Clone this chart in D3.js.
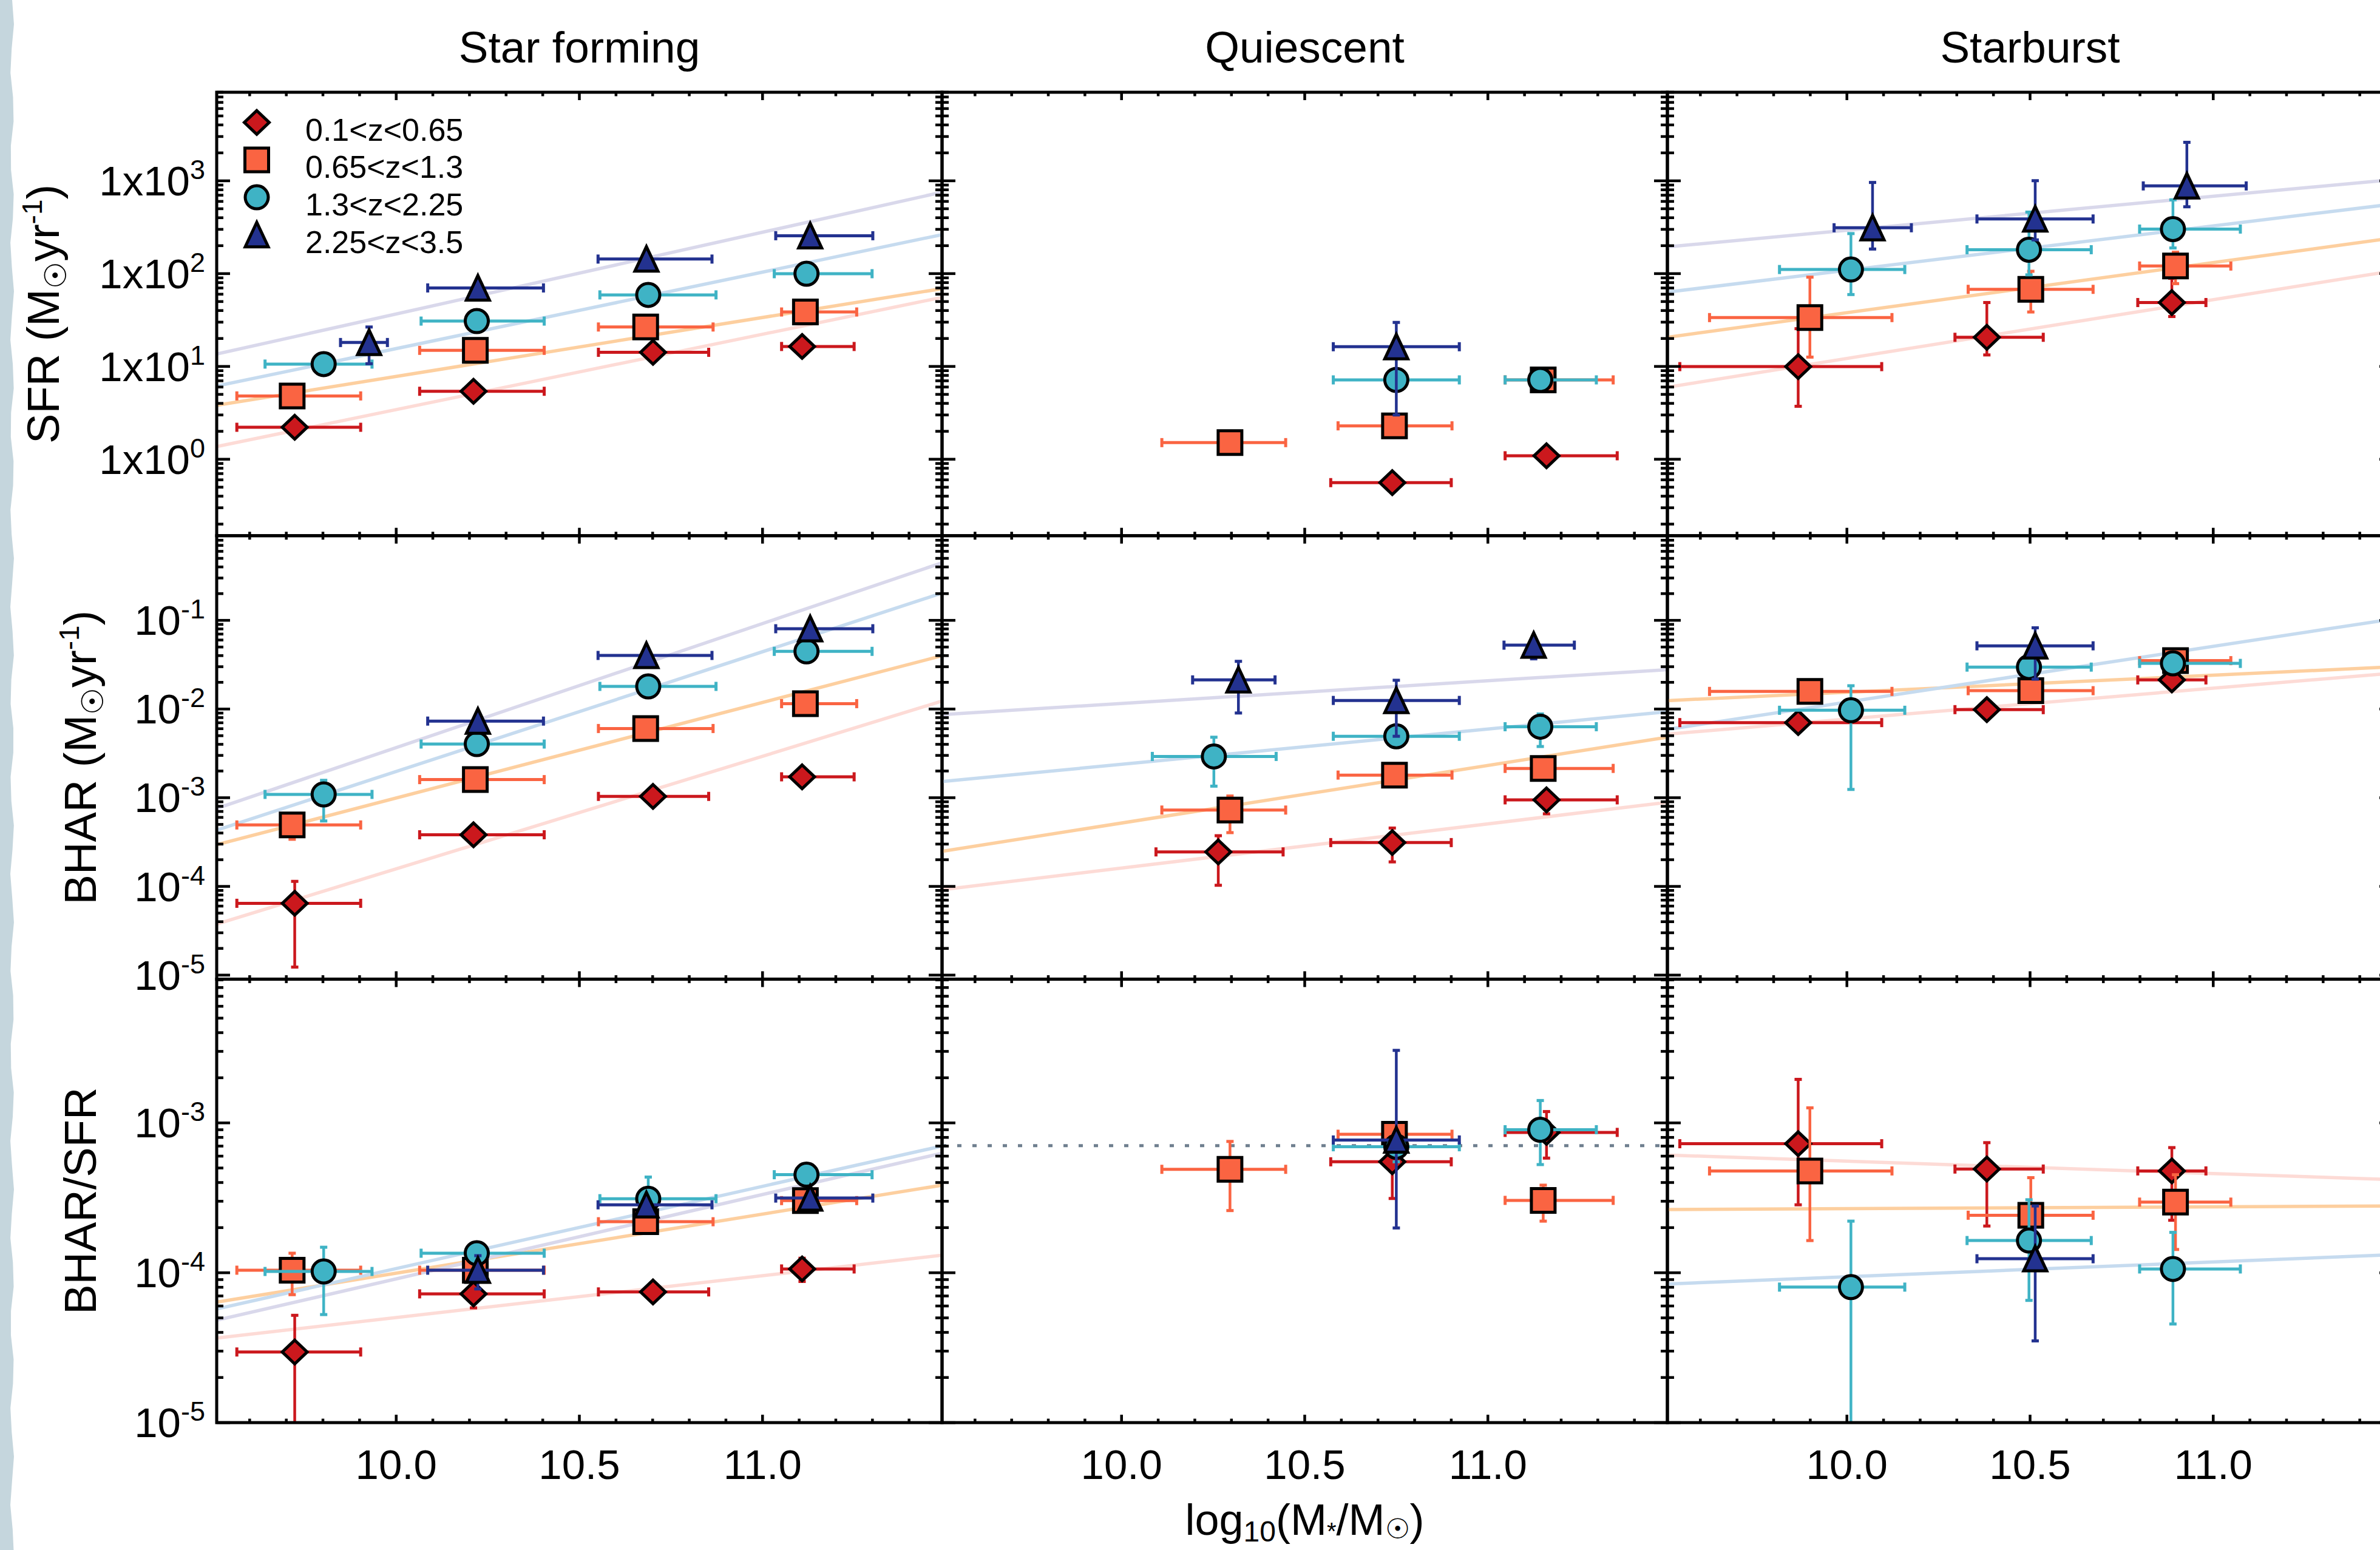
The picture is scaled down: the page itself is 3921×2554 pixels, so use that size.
<!DOCTYPE html>
<html><head><meta charset="utf-8">
<script src="https://cdn.jsdelivr.net/npm/d3@7"></script>
<style>body{margin:0;background:#fff}svg{display:block}</style>
</head><body>
<svg id="c" width="3921" height="2554"></svg>
<script>
// ---------------- DATA ----------------
const panelTitles = ["Star forming", "Quiescent", "Starburst"];
const seriesLabels = ["0.1<z<0.65", "0.65<z<1.3", "1.3<z<2.25", "2.25<z<3.5"];
const seriesColors = ["#cb181d", "#fa6442", "#3fb3c5", "#233290"];
const fitColors = ["#fddbd6", "#fdcf9f", "#c6dbef", "#d9d8eb"];
const xDomain = [9.51, 11.49];
const xTickValues = [10.0, 10.5, 11.0];
const xTickLabels = ["10.0", "10.5", "11.0"];
const yDomainSFR = [0.15, 9000];
const yDomainBHAR = [9e-6, 0.9];
const yDomainRatio = [1e-5, 9.1e-3];
const yTickExpSFR = [0, 1, 2, 3];
const yTickExpBHAR = [-5, -4, -3, -2, -1];
const yTickExpRatio = [-5, -4, -3];

// rows: [series, x, xlo, xhi, y, ylo, yhi]
const sfSFR = [
  [0, 9.723, 9.565, 9.903, 2.21], [0, 10.211, 10.064, 10.404, 5.4], [0, 10.701, 10.552, 10.853, 14.2], [0, 11.108, 11.052, 11.250, 16.4],
  [1, 9.716, 9.565, 9.903, 4.81], [1, 10.216, 10.064, 10.404, 14.9], [1, 10.681, 10.552, 10.865, 26.6], [1, 11.117, 11.052, 11.257, 38.6],
  [2, 9.802, 9.642, 9.934, 10.6], [2, 10.220, 10.068, 10.404, 30.8], [2, 10.688, 10.556, 10.873, 59], [2, 11.120, 11.032, 11.299, 99.8],
  [3, 9.926, 9.848, 9.976, 18.1, 10.7, 26.6], [3, 10.223, 10.086, 10.402, 70.1], [3, 10.683, 10.551, 10.862, 143.5], [3, 11.130, 11.036, 11.301, 256]
];
const qSFR = [
  [0, 10.739, 10.571, 10.900, 0.56], [0, 11.160, 11.047, 11.353, 1.09],
  [1, 10.296, 10.110, 10.448, 1.51], [1, 10.745, 10.591, 10.902, 2.29], [1, 11.151, 11.047, 11.342, 7.16],
  [2, 10.750, 10.578, 10.922, 7.16], [2, 11.143, 11.047, 11.296, 7.16],
  [3, 10.750, 10.578, 10.922, 16.3, 3.0, 29.8]
];
const sbSFR = [
  [0, 9.867, 9.544, 10.095, 9.95, 3.72, 25.5], [0, 10.382, 10.295, 10.536, 20.6, 13.3, 48.8], [0, 10.887, 10.794, 10.980, 48.8, 34.5, 89],
  [1, 9.899, 9.625, 10.123, 33.6, 12.6, 91.6], [1, 10.502, 10.331, 10.672, 67.7, 38.6, 106], [1, 10.897, 10.799, 11.048, 120.7, 78, 170],
  [2, 10.011, 9.816, 10.158, 110.7, 59.5, 270], [2, 10.497, 10.328, 10.667, 181, 97, 460], [2, 10.890, 10.799, 11.074, 302, 189, 624],
  [3, 10.070, 9.965, 10.176, 312, 184, 960], [3, 10.514, 10.355, 10.672, 388, 231, 1003], [3, 10.928, 10.809, 11.090, 881, 525, 2594]
];
const sfBHAR = [
  [0, 9.723, 9.565, 9.903, 6.45e-5, 1.23e-5, 1.14e-4], [0, 10.211, 10.064, 10.404, 3.82e-4], [0, 10.701, 10.552, 10.853, 1.035e-3], [0, 11.108, 11.052, 11.250, 1.72e-3],
  [1, 9.716, 9.565, 9.903, 4.93e-4, 3.4e-4, 6.5e-4], [1, 10.216, 10.064, 10.404, 1.6e-3], [1, 10.681, 10.552, 10.865, 6.03e-3], [1, 11.117, 11.052, 11.257, 1.15e-2],
  [2, 9.802, 9.642, 9.934, 1.09e-3, 5.47e-4, 1.57e-3], [2, 10.220, 10.068, 10.404, 4.03e-3], [2, 10.688, 10.556, 10.873, 1.8e-2], [2, 11.120, 11.032, 11.299, 4.47e-2],
  [3, 10.223, 10.086, 10.402, 7.31e-3], [3, 10.683, 10.551, 10.862, 4.02e-2], [3, 11.130, 11.036, 11.301, 8.04e-2]
];
const qBHAR = [
  [0, 10.264, 10.094, 10.441, 2.45e-4, 1.03e-4, 3.73e-4], [0, 10.739, 10.571, 10.900, 3.12e-4, 1.89e-4, 4.55e-4], [0, 11.160, 11.047, 11.353, 9.46e-4, 6.59e-4, 1.2e-3],
  [1, 10.296, 10.110, 10.448, 7.26e-4, 4.04e-4, 1.045e-3], [1, 10.745, 10.591, 10.902, 1.8e-3], [1, 11.151, 11.047, 11.342, 2.14e-3],
  [2, 10.252, 10.084, 10.422, 2.92e-3, 1.35e-3, 4.81e-3], [2, 10.750, 10.578, 10.922, 4.93e-3], [2, 11.143, 11.047, 11.296, 6.32e-3, 3.78e-3, 8.8e-3],
  [3, 10.319, 10.194, 10.419, 2.13e-2, 9.02e-3, 3.45e-2], [3, 10.750, 10.578, 10.922, 1.25e-2, 4.93e-3, 2.11e-2], [3, 11.125, 11.044, 11.236, 5.25e-2, 3.68e-2, 6e-2]
];
const sbBHAR = [
  [0, 9.867, 9.544, 10.095, 7.03e-3], [0, 10.382, 10.295, 10.536, 9.84e-3], [0, 10.887, 10.794, 10.980, 2.13e-2],
  [1, 9.899, 9.625, 10.123, 1.58e-2], [1, 10.502, 10.331, 10.672, 1.61e-2], [1, 10.897, 10.799, 11.048, 3.51e-2],
  [2, 10.011, 9.816, 10.158, 9.68e-3, 1.24e-3, 1.83e-2], [2, 10.497, 10.328, 10.667, 2.97e-2], [2, 10.890, 10.799, 11.074, 3.27e-2],
  [3, 10.514, 10.355, 10.672, 5.16e-2, 2.17e-2, 8.24e-2]
];
const sfRatio = [
  [0, 9.723, 9.565, 9.903, 2.96e-5, 5e-6, 5.2e-5], [0, 10.211, 10.064, 10.404, 7.23e-5, 5.83e-5, 8.8e-5], [0, 10.701, 10.552, 10.853, 7.45e-5], [0, 11.108, 11.052, 11.250, 1.06e-4, 8.75e-5, 1.25e-4],
  [1, 9.716, 9.565, 9.903, 1.04e-4, 7.14e-5, 1.35e-4], [1, 10.216, 10.064, 10.404, 1.04e-4], [1, 10.681, 10.552, 10.865, 2.19e-4, 1.83e-4, 2.6e-4], [1, 11.117, 11.052, 11.257, 3.03e-4],
  [2, 9.802, 9.642, 9.934, 1.02e-4, 5.26e-5, 1.48e-4], [2, 10.220, 10.068, 10.404, 1.35e-4], [2, 10.688, 10.556, 10.873, 3.12e-4, 2.5e-4, 4.35e-4], [2, 11.120, 11.032, 11.299, 4.51e-4],
  [3, 10.223, 10.086, 10.402, 1.04e-4, 7.8e-5, 1.3e-4], [3, 10.683, 10.551, 10.862, 2.84e-4], [3, 11.130, 11.036, 11.301, 3.15e-4]
];
const qRatio = [
  [0, 10.739, 10.571, 10.900, 5.5e-4, 3.13e-4, 8e-4], [0, 11.160, 11.047, 11.353, 8.64e-4, 5.82e-4, 1.19e-3],
  [1, 10.296, 10.110, 10.448, 4.9e-4, 2.6e-4, 7.52e-4], [1, 10.745, 10.591, 10.902, 8.4e-4, 7e-4, 9.7e-4], [1, 11.151, 11.047, 11.342, 3.04e-4, 2.21e-4, 3.84e-4],
  [2, 10.750, 10.578, 10.922, 6.93e-4, 5.5e-4, 8.6e-4], [2, 11.143, 11.047, 11.296, 9e-4, 5.27e-4, 1.41e-3],
  [3, 10.750, 10.578, 10.922, 7.69e-4, 1.99e-4, 3.05e-3]
];
const sbRatio = [
  [0, 9.867, 9.544, 10.095, 7.26e-4, 2.84e-4, 1.95e-3], [0, 10.382, 10.295, 10.536, 4.92e-4, 2.05e-4, 7.38e-4], [0, 10.887, 10.794, 10.980, 4.78e-4, 2.24e-4, 6.84e-4],
  [1, 9.899, 9.625, 10.123, 4.78e-4, 1.64e-4, 1.26e-3], [1, 10.502, 10.331, 10.672, 2.42e-4, 1.9e-4, 4.31e-4], [1, 10.897, 10.799, 11.048, 2.96e-4, 1.43e-4, 4.51e-4],
  [2, 10.011, 9.816, 10.158, 8.02e-5, 5e-6, 2.21e-4], [2, 10.497, 10.328, 10.667, 1.64e-4, 6.54e-5, 3.07e-4], [2, 10.890, 10.799, 11.074, 1.06e-4, 4.55e-5, 1.86e-4],
  [3, 10.514, 10.355, 10.672, 1.24e-4, 3.51e-5, 2.79e-4]
];

// fit lines: [series, value at left edge, value at right edge]
const sfSFRfit = [[0, 1.37, 55.5], [1, 3.81, 68.9], [2, 6.14, 263], [3, 13.6, 754]];
const sbSFRfit = [[0, 5.97, 107], [1, 20.6, 242], [2, 63.2, 561], [3, 194, 1030]];
const sfBHARfit = [[0, 3.76e-5, 1.23e-2], [1, 2.95e-4, 3.99e-2], [2, 4.31e-4, 0.203], [3, 7.57e-4, 0.446]];
const qBHARfit = [[0, 9.18e-5, 8.89e-4], [1, 2.49e-4, 4.81e-3], [2, 1.52e-3, 9.31e-3], [3, 8.65e-3, 2.78e-2]];
const sbBHARfit = [[0, 5.21e-3, 2.54e-2], [1, 1.245e-2, 2.99e-2], [2, 5.89e-3, 0.1035]];
const sfRatioFit = [[0, 3.67e-5, 1.31e-4], [1, 6.37e-5, 3.84e-4], [3, 4.82e-5, 6.28e-4], [2, 5.74e-5, 7.01e-4]];
const sbRatioFit = [[0, 6.10e-4, 4.18e-4], [1, 2.64e-4, 2.79e-4], [2, 8.41e-5, 1.32e-4]];
const qRatioRef = 7.05e-4;

// ---------------- LAYOUT ----------------
const W = 3921, H = 2554;
const FONT = "'Liberation Sans', Arial, Helvetica, sans-serif";
const colLeft = [357, 1552, 2747], colW = 1195;
const rowTop = [152, 882.7, 1613.4], rowH = 730.7;

const rows = [
  { domain: yDomainSFR, exps: yTickExpSFR, prefix: "1x10", data: [sfSFR, qSFR, sbSFR], fits: [sfSFRfit, [], sbSFRfit], ref: [null, null, null] },
  { domain: yDomainBHAR, exps: yTickExpBHAR, prefix: "10", data: [sfBHAR, qBHAR, sbBHAR], fits: [sfBHARfit, qBHARfit, sbBHARfit], ref: [null, null, null] },
  { domain: yDomainRatio, exps: yTickExpRatio, prefix: "10", data: [sfRatio, qRatio, sbRatio], fits: [sfRatioFit, [], sbRatioFit], ref: [null, qRatioRef, null] }
];

const svg = d3.select("#c");
svg.append("rect").attr("width", W).attr("height", H).attr("fill", "#fff");
const defs = svg.append("defs");

// decorative left strip
const stripPts = d3.range(0, H + 40, 40).map((yy, i) => [20 + 3 * Math.sin(i * 1.7), yy]);
svg.append("path")
  .attr("d", "M0,0" + stripPts.map(p => `L${p[0]},${p[1]}`).join("") + `L0,${H}Z`)
  .attr("fill", "#c5d6dd");

function markerPath(s) {
  if (s === 0) return "M0,-19.5L20.5,0L0,19.5L-20.5,0Z";
  if (s === 1) return "M-19.5,-19.5H19.5V19.5H-19.5Z";
  if (s === 2) { const p = d3.path(); p.arc(0, 0, 19, 0, 2 * Math.PI); p.closePath(); return p.toString(); }
  return "M0,-20.5L19,20L-19,20Z";
}

function drawMarker(g, s, cx, cy) {
  g.append("path").attr("d", markerPath(s)).attr("transform", `translate(${cx},${cy})`)
    .attr("fill", seriesColors[s]).attr("stroke", "#000").attr("stroke-width", 5).attr("stroke-linejoin", "miter");
}

rows.forEach((row, r) => {
  const T = rowTop[r], B = T + rowH;
  [0, 1, 2].forEach(c => {
    const L = colLeft[c], R = L + colW;
    const x = d3.scaleLinear().domain(xDomain).range([L, R]);
    const y = d3.scaleLog().domain(row.domain).range([B, T]);
    const cid = `clip${r}${c}`;
    defs.append("clipPath").attr("id", cid).append("rect").attr("x", L).attr("y", T).attr("width", colW).attr("height", rowH);
    const g = svg.append("g").attr("clip-path", `url(#${cid})`);

    // fit lines
    row.fits[c].forEach(([s, v0, v1]) => {
      g.append("line").attr("x1", x(xDomain[0])).attr("y1", y(v0)).attr("x2", x(xDomain[1])).attr("y2", y(v1))
        .attr("stroke", fitColors[s]).attr("stroke-width", 5.5);
    });
    // reference dotted line
    if (row.ref[c] !== null) {
      g.append("line").attr("x1", x(xDomain[0])).attr("x2", x(xDomain[1])).attr("y1", y(row.ref[c])).attr("y2", y(row.ref[c]))
        .attr("stroke", "#6f7f8f").attr("stroke-width", 5).attr("stroke-dasharray", "7 18");
    }
    // series
    [0, 1, 2, 3].forEach(s => {
      const pts = row.data[c].filter(d => d[0] === s);
      pts.forEach(d => {
        const col = seriesColors[s];
        const cy = y(d[4]);
        const xl = x(d[2]), xh = x(d[3]);
        g.append("line").attr("x1", xl).attr("x2", xh).attr("y1", cy).attr("y2", cy).attr("stroke", col).attr("stroke-width", 5);
        [xl, xh].forEach(xx => g.append("line").attr("x1", xx).attr("x2", xx).attr("y1", cy - 7.5).attr("y2", cy + 7.5).attr("stroke", col).attr("stroke-width", 5));
        if (d[5] !== undefined) {
          const cx = x(d[1]);
          const yl = y(d[5]), yh = y(d[6]);
          g.append("line").attr("x1", cx).attr("x2", cx).attr("y1", yl).attr("y2", yh).attr("stroke", col).attr("stroke-width", 4.5);
          [yl, yh].forEach(yy => g.append("line").attr("x1", cx - 6).attr("x2", cx + 6).attr("y1", yy).attr("y2", yy).attr("stroke", col).attr("stroke-width", 5));
        }
      });
      pts.forEach(d => drawMarker(g, s, x(d[1]), y(d[4])));
    });

    // frame + ticks
    const fg = svg.append("g").attr("stroke", "#000");
    fg.append("rect").attr("x", L).attr("y", T).attr("width", colW).attr("height", rowH).attr("fill", "none").attr("stroke-width", 5);
    const isMajorY = v => Math.abs(Math.log10(v) - Math.round(Math.log10(v))) < 1e-9;
    y.ticks().forEach(v => {
      const len = isMajorY(v) ? 22 : 11, yy = y(v);
      fg.append("line").attr("x1", L).attr("x2", L + len).attr("y1", yy).attr("y2", yy).attr("stroke-width", 4.5);
      fg.append("line").attr("x1", R).attr("x2", R - len).attr("y1", yy).attr("y2", yy).attr("stroke-width", 4.5);
    });
    x.ticks(20).forEach(v => {
      const len = Math.abs(v * 2 - Math.round(v * 2)) < 1e-6 ? 13 : 6.5, xx = x(v);
      fg.append("line").attr("x1", xx).attr("x2", xx).attr("y1", B).attr("y2", B - len).attr("stroke-width", 4.5);
      fg.append("line").attr("x1", xx).attr("x2", xx).attr("y1", T).attr("y2", T + len).attr("stroke-width", 4.5);
    });

    // y tick labels
    if (c === 0) {
      row.exps.forEach(e => {
        const t = svg.append("text").attr("x", 338).attr("y", y(Math.pow(10, e)) + 24)
          .attr("text-anchor", "end").attr("font-family", FONT).attr("font-size", 69).attr("fill", "#000");
        t.append("tspan").text(row.prefix);
        t.append("tspan").attr("font-size", 45).attr("dy", -27).text(String(e));
      });
    }
    // x tick labels
    if (r === 2) {
      xTickValues.forEach((v, i) => {
        svg.append("text").attr("x", x(v)).attr("y", 2437).attr("text-anchor", "middle")
          .attr("font-family", FONT).attr("font-size", 69).attr("fill", "#000").text(xTickLabels[i]);
      });
    }
    // titles
    if (r === 0) {
      svg.append("text").attr("x", (L + R) / 2).attr("y", 103).attr("text-anchor", "middle")
        .attr("font-family", FONT).attr("font-size", 73).attr("fill", "#000").text(panelTitles[c]);
    }
  });
});

// legend
seriesLabels.forEach((lab, i) => {
  const cy = 201.7 + i * 61.7;
  drawMarker(svg, i, 423, cy);
  svg.append("text").attr("x", 503).attr("y", cy + 30).attr("font-family", FONT).attr("font-size", 52)
    .attr("fill", "#000").text(lab);
});

// y axis titles
function yTitle(xb, yc, parts) {
  const t = svg.append("text").attr("transform", `translate(${xb},${yc}) rotate(-90)`)
    .attr("text-anchor", "middle").attr("font-family", FONT).attr("font-size", 74).attr("fill", "#000");
  parts.forEach(p => {
    const ts = t.append("tspan").text(p[0]);
    if (p[1]) ts.attr("font-size", p[1]);
    if (p[2]) ts.attr("dy", p[2]);
  });
}
const sunSub = "\u2609";
yTitle(97, rowTop[0] + rowH / 2, [["SFR (M"], [sunSub, 50, 12], ["yr", 74, -12], ["-1", 46, -28], [")", 74, 28]]);
yTitle(158, rowTop[1] + rowH / 2, [["BHAR (M"], [sunSub, 50, 12], ["yr", 74, -12], ["-1", 46, -28], [")", 74, 28]]);
yTitle(158, rowTop[2] + rowH / 2, [["BHAR/SFR"]]);

// x axis title
const xt = svg.append("text").attr("x", colLeft[1] + colW / 2).attr("y", 2529).attr("text-anchor", "middle")
  .attr("font-family", FONT).attr("font-size", 72).attr("fill", "#000");
xt.append("tspan").text("log");
xt.append("tspan").attr("font-size", 48).attr("dy", 11).text("10");
xt.append("tspan").attr("dy", -11).text("(M");
xt.append("tspan").attr("font-size", 40).attr("dy", 8).text("*");
xt.append("tspan").attr("dy", -8).text("/M");
xt.append("tspan").attr("font-size", 46).attr("dy", 6).text(sunSub);
xt.append("tspan").attr("dy", -6).text(")");
</script>
</body></html>
